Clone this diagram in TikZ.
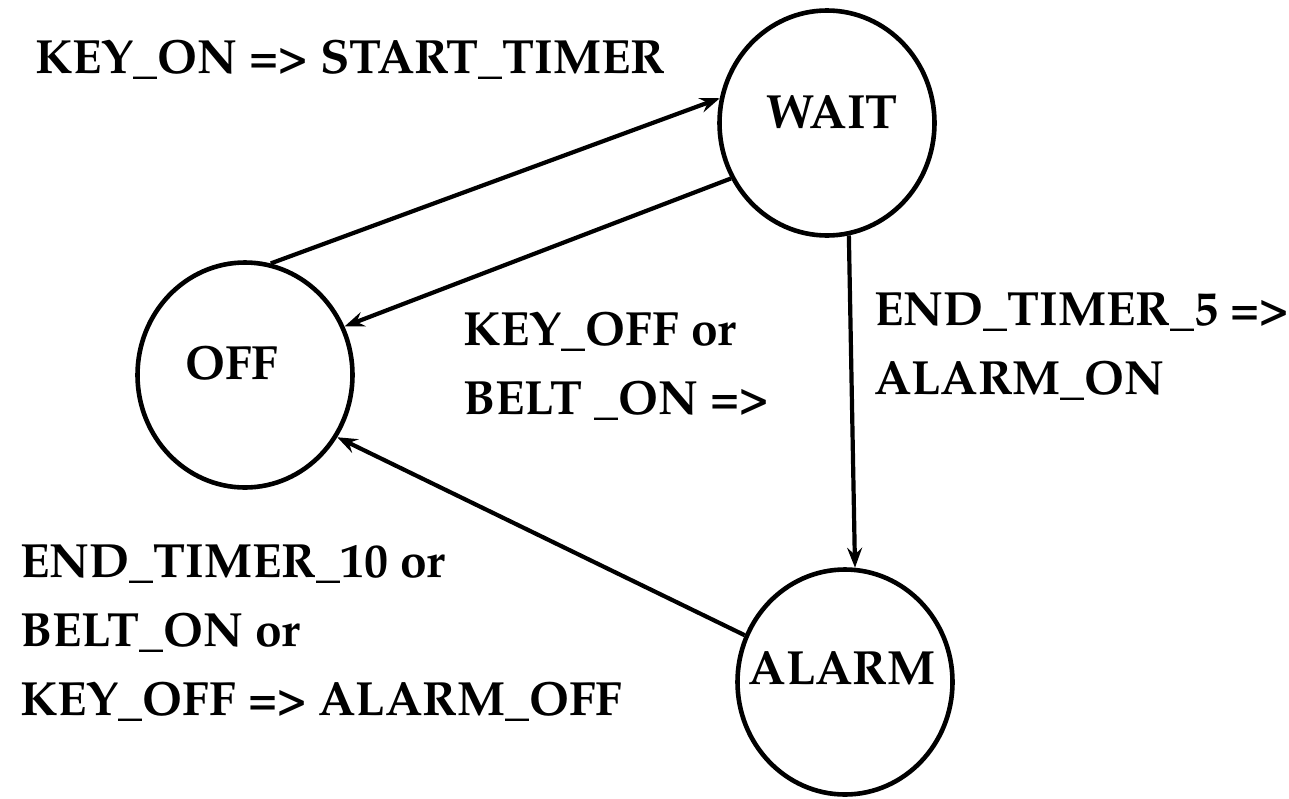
\documentclass[tikz,border=0pt]{standalone}
\usepackage[T1]{fontenc}
\renewcommand{\rmdefault}{ppl}
\usepackage{tikz}
\usetikzlibrary{arrows.meta,shapes.geometric,positioning}
\tikzstyle{state} = [ellipse, draw=black, line width=4.6pt, minimum width=215pt, minimum height=225pt, inner sep=0pt]
\tikzstyle{arrow} = [line width=4.2pt, -{Stealth[length=20pt, width=15pt, inset=7pt]}]
\tikzstyle{cond} = [align=left, anchor=north west, inner sep=0pt, font=\fontsize{48}{69}\selectfont\bfseries]

\begin{document}
\begin{tikzpicture}[x=1pt, y=-1pt]
\useasboundingbox (0,0) rectangle (1289,798);
\node[state, label={[font=\fontsize{48}{58}\selectfont\bfseries, xshift=5pt, yshift=11pt]center:WAIT}] (wait) at (827,123) {};
\node[state, label={[font=\fontsize{48}{58}\selectfont\bfseries, xshift=-13pt, yshift=12pt]center:OFF}] (off) at (245,375) {};
\node[state, label={[font=\fontsize{48}{58}\selectfont\bfseries, xshift=-3pt, yshift=14pt]center:ALARM}] (alarm) at (845,682) {};
\draw[arrow] (off.77)--(wait.167);
\draw[arrow] (wait.210)--(off.26);
\draw[arrow] (wait.281)--(alarm.85);
\draw[arrow] (alarm.155)--(off.326);
\node[cond] (keyon) at (35,40) {KEY\_ON => START\_TIMER};
\node[cond] (keyoff) at (463,312) {KEY\_OFF or\\BELT \_ON =>};
\node[cond] (timer5) at (874,293) {END\_TIMER\_5 =>\\ALARM\_ON};
\node[cond] (timer10) at (20,545) {END\_TIMER\_10 or\\BELT\_ON or\\KEY\_OFF => ALARM\_OFF};
\end{tikzpicture}
\end{document}
